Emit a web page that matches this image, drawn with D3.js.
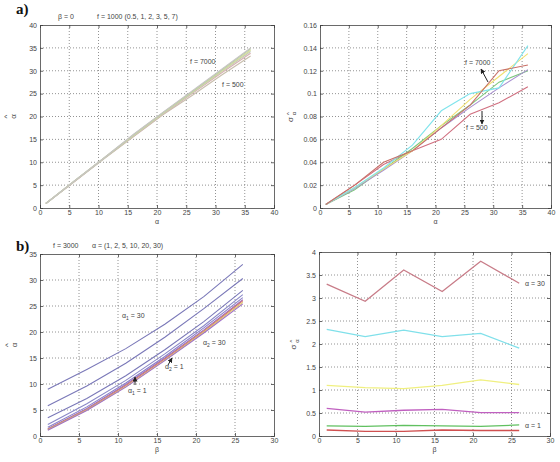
<!DOCTYPE html>
<html><head><meta charset="utf-8">
<script src="https://cdn.jsdelivr.net/npm/d3@7"></script>
<style>body{margin:0;background:#fff}svg text{font-family:"Liberation Sans",Arial,sans-serif}</style>
</head><body><svg id="c" width="560" height="462"></svg>
<script>
// ---- data ----
const alphaA = [1, 6, 11, 16, 21, 26, 31, 36];
const fLabels = ["500", "1000", "2000", "3000", "5000", "7000"];
const meanA = [
  [1, 5.9, 10.8, 15.6, 20.4, 24.6, 29.0, 33.2],
  [1, 5.9, 10.9, 15.7, 20.5, 25.0, 29.5, 33.8],
  [1, 6.0, 10.9, 15.8, 20.6, 25.2, 29.8, 34.2],
  [1, 6.0, 11.0, 15.9, 20.7, 25.3, 29.9, 34.5],
  [1, 6.0, 11.0, 16.0, 20.8, 25.4, 30.1, 34.8],
  [1, 6.0, 11.0, 16.1, 20.9, 25.6, 30.3, 35.0]
];
const stdA = [
  [0.003, 0.020, 0.038, 0.050, 0.060, 0.082, 0.092, 0.106],
  [0.003, 0.016, 0.034, 0.052, 0.072, 0.090, 0.110, 0.120],
  [0.003, 0.017, 0.033, 0.050, 0.070, 0.088, 0.105, 0.121],
  [0.003, 0.018, 0.034, 0.050, 0.072, 0.095, 0.115, 0.135],
  [0.003, 0.018, 0.035, 0.055, 0.085, 0.100, 0.105, 0.142],
  [0.003, 0.020, 0.040, 0.050, 0.070, 0.090, 0.120, 0.125]
];
const betaB = [1, 6, 11, 16, 21, 26];
const meanB = [
  [9.0, 12.8, 16.8, 21.5, 26.8, 33.0],
  [5.8, 9.6, 14.0, 19.0, 24.5, 30.3],
  [3.5, 7.2, 11.6, 16.6, 22.0, 28.0],
  [2.2, 6.2, 10.7, 15.8, 21.2, 27.2],
  [1.7, 5.6, 10.2, 15.3, 20.8, 26.6],
  [1.4, 5.3, 9.9, 15.0, 20.4, 26.2],
  [1.3, 5.1, 9.7, 14.8, 20.2, 26.0],
  [1.2, 5.0, 9.5, 14.6, 20.0, 25.7],
  [1.1, 4.9, 9.4, 14.5, 19.8, 25.4]
];
const alphaB = ["30", "20", "10", "5", "2", "1"];
const stdB = [
  [3.30, 2.93, 3.61, 3.14, 3.80, 3.32],
  [2.32, 2.16, 2.30, 2.16, 2.23, 1.91],
  [1.10, 1.05, 1.03, 1.10, 1.22, 1.12],
  [0.60, 0.52, 0.56, 0.58, 0.51, 0.51],
  [0.22, 0.21, 0.23, 0.22, 0.21, 0.24],
  [0.13, 0.10, 0.10, 0.13, 0.12, 0.12]
];
const ticksA = [0, 5, 10, 15, 20, 25, 30, 35, 40];
const ticksAy1 = [0, 5, 10, 15, 20, 25, 30, 35, 40];
const ticksAy2 = [0, 0.02, 0.04, 0.06, 0.08, 0.1, 0.12, 0.14, 0.16];
const ticksB = [0, 5, 10, 15, 20, 25, 30];
const ticksBy1 = [0, 5, 10, 15, 20, 25, 30, 35];
const ticksBy2 = [0, 0.5, 1, 1.5, 2, 2.5, 3, 3.5, 4];

const svg = d3.select("#c");
svg.append("defs").append("marker").attr("id","ar").attr("viewBox","0 0 10 10")
  .attr("refX",9).attr("refY",5).attr("markerWidth",5).attr("markerHeight",5).attr("orient","auto")
  .append("path").attr("d","M0,0L10,5L0,10z").attr("fill","#222");

function panel(o){
  const g = svg.append("g");
  const x = d3.scaleLinear().domain(o.xd).range([o.l, o.r]);
  const y = d3.scaleLinear().domain(o.yd).range([o.b, o.t]);
  g.selectAll(".gx").data(o.xt.slice(1,-1)).join("line").attr("x1",d=>x(d)).attr("x2",d=>x(d))
    .attr("y1",o.t).attr("y2",o.b).attr("stroke","#777").attr("stroke-width",0.8).attr("stroke-dasharray","1,2");
  g.selectAll(".gy").data(o.yt.slice(1,-1)).join("line").attr("y1",d=>y(d)).attr("y2",d=>y(d))
    .attr("x1",o.l).attr("x2",o.r).attr("stroke","#777").attr("stroke-width",0.8).attr("stroke-dasharray","1,2");
  const ax = g.append("g").attr("transform",`translate(0,${o.b})`)
    .call(d3.axisBottom(x).tickValues(o.xt).tickSize(-3).tickPadding(2).tickFormat(d3.format("")));
  const ay = g.append("g").attr("transform",`translate(${o.l},0)`)
    .call(d3.axisLeft(y).tickValues(o.yt).tickSize(-3).tickPadding(3).tickFormat(d3.format("")));
  const at = g.append("g").attr("transform",`translate(0,${o.t})`)
    .call(d3.axisTop(x).tickValues(o.xt).tickSize(-3).tickFormat(""));
  const ar = g.append("g").attr("transform",`translate(${o.r},0)`)
    .call(d3.axisRight(y).tickValues(o.yt).tickSize(-3).tickFormat(""));
  [ax,ay,at,ar].forEach(a=>{a.selectAll("path,line").attr("stroke","#444").attr("stroke-width",0.8);
    a.selectAll("text").attr("font-size",7).attr("fill","#444");});
  const line = d3.line().x((d,i)=>x(o.xs[i])).y(d=>y(d));
  o.ys.forEach((s,i)=>{
    g.append("path").attr("d",line(s)).attr("fill","none").attr("stroke",o.c[i]).attr("stroke-width",o.w||1.1);
  });
  g.append("text").attr("x",(o.l+o.r)/2).attr("y",o.b+16).attr("text-anchor","middle")
    .attr("font-size",7).attr("fill","#444").text(o.xl);
  // rotated y label: symbol with a hat above it (hat appears to the left after rotation)
  const yl = g.append("g").attr("transform",`translate(${o.yx},${(o.t+o.b)/2}) rotate(-90)`);
  if(o.sigma){
    yl.append("text").attr("x",-3).attr("y",0).attr("text-anchor","middle").attr("font-size",8).attr("fill","#444").text("σ");
    yl.append("text").attr("x",3).attr("y",3).attr("text-anchor","middle").attr("font-size",6).attr("fill","#444").text("α");
    yl.append("text").attr("x",3).attr("y",-2).attr("text-anchor","middle").attr("font-size",6).attr("fill","#444").text("^");
  } else {
    yl.append("text").attr("x",0).attr("y",0).attr("text-anchor","middle").attr("font-size",8).attr("fill","#444").text("α");
    yl.append("text").attr("x",0).attr("y",-7).attr("text-anchor","middle").attr("font-size",8).attr("fill","#444").text("^");
  }
  return {x,y,g};
}

panel({l:40,r:274,t:25,b:208,xd:[0,40],yd:[0,40],xt:ticksA,yt:ticksAy1,xs:alphaA,ys:meanA,
  c:["#c9bfae","#d8b0b0","#bfc9bf","#d9dc9a","#b8cfa8","#c8c4c4"],xl:"α",yx:16,w:1.2});
panel({l:320,r:551,t:25,b:208,xd:[0,40],yd:[0,0.16],xt:ticksA,yt:ticksAy2,xs:alphaA,ys:stdA,
  c:["#d07080","#7cc87c","#a890d0","#f0e070","#80e4ec","#c87068"],xl:"α",yx:293,sigma:true});
panel({l:40,r:274,t:254,b:436,xd:[0,30],yd:[0,35],xt:ticksB,yt:ticksBy1,xs:betaB,ys:meanB,
  c:["#7a78b8","#7a78b8","#7a78b8","#8a88c8","#8a80c8","#9a70c0","#d07878","#e0c860","#a070c8"],xl:"β",yx:17});
panel({l:319,r:550,t:252,b:436,xd:[0,30],yd:[0,4],xt:ticksB,yt:ticksBy2,xs:betaB,ys:stdB,
  c:["#c87c88","#80e0ea","#f0f080","#c060c0","#60c060","#d05050"],xl:"β",yx:296,w:1.3,sigma:true});

function txt(x,y,s,size,bold){const t=svg.append("text").attr("x",x).attr("y",y).attr("font-size",size||7).attr("fill","#444");
  if(bold) t.attr("font-weight","bold").style("font-family","'Liberation Serif', serif").attr("fill","#111");
  return t.text(s);}
function sub(x,y,a,n,v){const t=svg.append("text").attr("x",x).attr("y",y).attr("font-size",7).attr("fill","#444");
  t.append("tspan").text(a);t.append("tspan").attr("font-size",5).attr("dy",2).text(n);
  t.append("tspan").attr("dy",-2).text(" = "+v);}
function arrow(x1,y1,x2,y2){svg.append("line").attr("x1",x1).attr("y1",y1).attr("x2",x2).attr("y2",y2)
  .attr("stroke","#222").attr("stroke-width",1).attr("marker-end","url(#ar)");}

txt(16,14,"a)",15,true);
txt(58,19,"β = 0");
txt(97,19,"f = 1000 (0.5, 1, 2, 3, 5, 7)");
txt(190,64,"f = 7000");
txt(222,87,"f = 500");
txt(465,65,"f = 7000");
txt(466,130,"f = 500");
arrow(488,82,481,69);
arrow(482,111,482,124);

txt(16,251,"b)",15,true);
txt(53,248,"f = 3000");
txt(92,248,"α = (1, 2, 5, 10, 20, 30)");
sub(122,318,"α","1","30");
sub(203,345,"α","2","30");
sub(165,369,"α","2","1");
sub(128,393,"α","1","1");
arrow(168,365,172,358);
arrow(135,385,135,377);
txt(525,286,"α = 30");
txt(525,428,"α = 1");
</script></body></html>
